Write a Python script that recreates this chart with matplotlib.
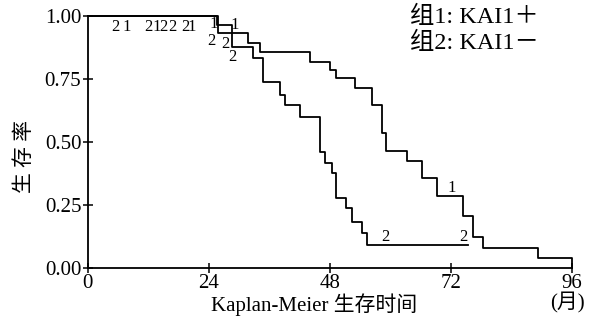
import numpy as np
import matplotlib.pyplot as plt

plt.rcParams['font.family'] = ['Liberation Serif', 'Noto Sans CJK SC']

# Kaplan-Meier steps (months, survival)
t1 = [0, 25.7, 28.6, 31.8, 34.2, 44.1, 48.0, 49.2, 52.9, 56.3, 58.3, 59.2,
      63.2, 66.2, 69.3, 74.4, 76.4, 78.4, 89.3, 96.0]
s1 = [1.0, 0.965, 0.932, 0.893, 0.856, 0.818, 0.785, 0.752, 0.712, 0.644,
      0.534, 0.465, 0.425, 0.355, 0.284, 0.205, 0.123, 0.079, 0.040, 0.0]
end1 = 96.0

t2 = [0, 25.8, 28.6, 32.8, 34.7, 38.1, 39.1, 42.1, 46.0, 47.0, 48.4, 49.3,
      51.3, 52.3, 54.3, 55.4]
s2 = [1.0, 0.932, 0.878, 0.832, 0.739, 0.686, 0.646, 0.600, 0.460, 0.414,
      0.374, 0.275, 0.235, 0.183, 0.136, 0.090]
end2 = 75.4

# censored observations, marked with the group number
cens1 = [7.8, 13.6, 20.7, 25.0, 29.2, 72.2]
cens2 = [5.6, 12.0, 15.1, 16.9, 19.3, 24.5, 27.4, 28.7, 59.1, 74.4]

xticks = [0, 24, 48, 72, 96]
yticks = [0.0, 0.25, 0.5, 0.75, 1.0]


def surv_at(t, times, surv):
    idx = np.searchsorted(times, t, side='right') - 1
    return surv[idx]


fig = plt.figure(figsize=(6.08, 3.24), dpi=100)
ax = fig.add_axes([0.144, 0.174, 0.797, 0.777])

for times, surv, end in [(t1, s1, end1), (t2, s2, end2)]:
    x = list(times) + [end]
    y = list(surv) + [surv[-1]]
    ax.step(x, y, where='post', color='black', lw=1.3, clip_on=False)

for label, cens, times, surv in [('1', cens1, t1, s1), ('2', cens2, t2, s2)]:
    for c in cens:
        yv = surv_at(c, times, surv)
        if c < 29 or yv >= 1.0:
            dy = -2
            # crowded marks near the first drop, nudged as in the original
            if label == '1' and 24.8 < c < 25.2:
                dy = 0
            if label == '2' and 24 < c < 25:
                dy = -12
            ax.annotate(label, (c, yv), xytext=(0, dy), textcoords='offset points',
                        ha='center', va='top', fontsize=12)
        else:
            ax.annotate(label, (c, yv), xytext=(0, 0), textcoords='offset points',
                        ha='center', va='bottom', fontsize=12)

ax.set_xlim(0, 96)
ax.set_ylim(0, 1)
ax.set_xticks(xticks)
ax.set_xticklabels([str(v) for v in xticks])
ax.set_yticks(yticks)
ax.set_yticklabels(['%.2f' % v for v in yticks])
ax.tick_params(direction='inout', length=7, width=1.1, labelsize=15, pad=1)
for side in ['top', 'right']:
    ax.spines[side].set_visible(False)
for side in ['left', 'bottom']:
    ax.spines[side].set_linewidth(1.3)

ax.set_xlabel('Kaplan-Meier 生存时间', fontsize=15)
ax.xaxis.set_label_coords(0.467, -0.1)
ax.set_ylabel('生 存 率', fontsize=15)
ax.yaxis.set_label_coords(-0.108, 0.443)
ax.text(0.99, -0.1, '(月)', transform=ax.transAxes, ha='center', va='top', fontsize=15)

ax.text(0.665, 1.04, '组1: KAI1＋', transform=ax.transAxes, ha='left', va='top', fontsize=17.5)
ax.text(0.665, 0.935, '组2: KAI1－', transform=ax.transAxes, ha='left', va='top', fontsize=17.5)

fig.savefig('out.png', dpi=100)
